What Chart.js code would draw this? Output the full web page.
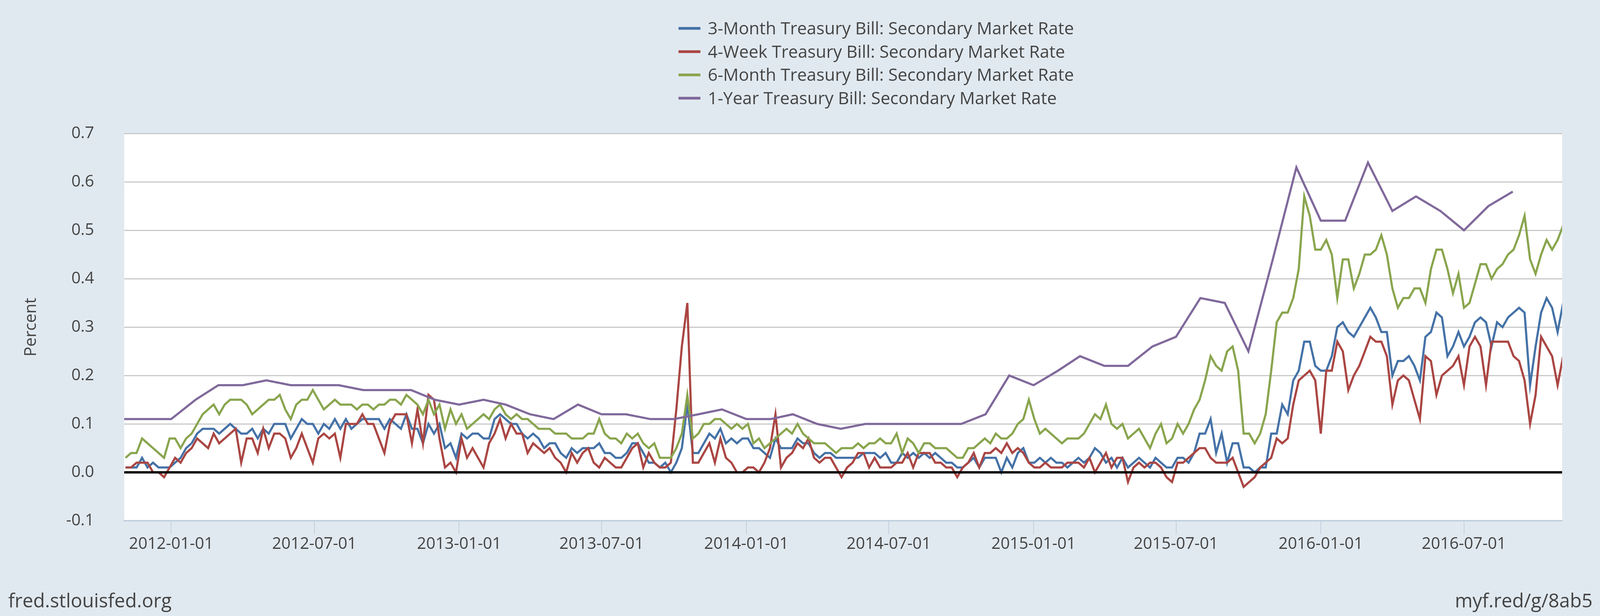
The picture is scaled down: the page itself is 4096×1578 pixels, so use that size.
<!DOCTYPE html>
<html>
<head>
<meta charset="utf-8">
<script src="https://cdn.jsdelivr.net/npm/chart.js@4.4.1/dist/chart.umd.min.js"></script>
<style>
  html, body { margin: 0; padding: 0; background: #e1e9f0; }
  canvas { display: block; }
</style>
</head>
<body>
<canvas id="rates" width="4096" height="1578" style="width:4096px;height:1578px"></canvas>
<script>
// weekly readings of the daily series, first reading on this date
var weekStart = "2011-11-04";

var threeMonth = [
  0.01,0.01,0.01,0.03,0.01,0.02,0.01,0.01,0.01,0.02,0.03,0.05,0.06,0.08,0.09,0.09,0.09,0.08,0.09,0.10,0.09,0.08,0.08,0.09,0.07,0.09,0.08,0.10,0.10,0.10,0.07,0.09,0.11,
  0.10,0.10,0.08,0.10,0.09,0.11,0.09,0.11,0.09,0.10,0.11,0.11,0.11,0.11,0.09,0.11,0.10,0.09,0.12,0.09,0.09,0.06,0.10,0.08,0.10,0.05,0.06,0.03,0.08,0.07,0.08,0.08,0.07,
  0.07,0.11,0.12,0.11,0.10,0.10,0.08,0.07,0.08,0.07,0.05,0.06,0.06,0.04,0.03,0.05,0.04,0.05,0.05,0.05,0.06,0.04,0.04,0.03,0.03,0.04,0.06,0.06,0.04,0.02,0.02,0.01,
  0.02,0.00,0.02,0.05,0.14,0.04,0.04,0.06,0.08,0.07,0.09,0.06,0.07,0.06,0.07,0.07,0.05,0.05,0.04,0.03,0.07,0.05,0.05,0.05,0.07,0.06,0.06,0.04,0.03,0.04,0.04,0.03,0.03,
  0.03,0.03,0.03,0.04,0.04,0.04,0.03,0.04,0.02,0.02,0.04,0.03,0.04,0.03,0.04,0.03,0.04,0.03,0.02,0.02,0.01,0.01,0.02,0.03,0.01,0.03,0.03,0.03,0.00,0.03,0.01,0.04,
  0.05,0.02,0.02,0.03,0.02,0.03,0.02,0.02,0.01,0.02,0.03,0.02,0.03,0.05,0.04,0.02,0.03,0.01,0.03,0.01,0.02,0.03,0.02,0.01,0.03,0.02,0.01,0.01,0.03,0.03,0.02,0.04,0.08,
  0.08,0.11,0.04,0.08,0.02,0.06,0.06,0.01,0.01,0.00,0.01,0.01,0.08,0.08,0.14,0.12,0.19,0.21,0.27,0.27,0.22,0.21,0.21,0.24,0.30,0.31,0.29,0.28,0.30,0.32,0.34,0.32,0.29,
  0.29,0.20,0.23,0.23,0.24,0.22,0.19,0.28,0.29,0.33,0.32,0.24,0.26,0.29,0.26,0.28,0.31,0.32,0.31,0.26,0.31,0.30,0.32,0.33,0.34,0.33,0.18,0.26,0.33,0.36,0.34,0.29,0.35
];

var fourWeek = [
  0.01,0.01,0.02,0.02,0.02,0.00,0.00,-0.01,0.01,0.03,0.02,0.04,0.05,0.07,0.06,0.05,0.08,0.06,0.07,0.08,0.09,0.02,0.07,0.07,0.04,0.09,0.05,0.08,0.08,0.07,0.03,0.05,0.08,
  0.05,0.02,0.07,0.08,0.07,0.08,0.03,0.10,0.10,0.10,0.12,0.10,0.10,0.07,0.04,0.10,0.12,0.12,0.12,0.06,0.13,0.06,0.16,0.15,0.07,0.01,0.02,0.00,0.07,0.03,0.05,0.03,0.01,
  0.06,0.08,0.11,0.07,0.10,0.08,0.08,0.04,0.06,0.05,0.04,0.05,0.03,0.02,0.00,0.04,0.02,0.04,0.05,0.02,0.01,0.03,0.02,0.01,0.01,0.03,0.05,0.06,0.01,0.04,0.02,0.01,
  0.01,0.02,0.13,0.26,0.35,0.02,0.02,0.04,0.06,0.02,0.07,0.03,0.02,0.00,0.00,0.01,0.01,0.00,0.02,0.05,0.12,0.01,0.03,0.04,0.06,0.05,0.07,0.03,0.02,0.03,0.03,0.01,-0.01,
  0.01,0.02,0.04,0.04,0.01,0.03,0.01,0.01,0.01,0.02,0.02,0.04,0.01,0.04,0.04,0.04,0.02,0.02,0.01,0.01,-0.01,0.01,0.02,0.04,0.01,0.04,0.04,0.05,0.04,0.06,0.04,0.05,
  0.04,0.02,0.01,0.01,0.02,0.01,0.01,0.01,0.02,0.02,0.02,0.01,0.03,0.00,0.02,0.04,0.01,0.03,0.03,-0.02,0.01,0.02,0.01,0.02,0.02,0.01,-0.01,-0.02,0.02,0.02,0.03,0.04,0.05,
  0.05,0.03,0.02,0.02,0.02,0.03,0.00,-0.03,-0.02,-0.01,0.01,0.02,0.03,0.07,0.06,0.07,0.14,0.19,0.20,0.21,0.19,0.08,0.21,0.21,0.27,0.25,0.17,0.20,0.22,0.25,0.28,0.27,0.27,
  0.24,0.14,0.19,0.20,0.19,0.15,0.11,0.24,0.23,0.16,0.20,0.21,0.22,0.24,0.18,0.26,0.28,0.26,0.18,0.27,0.27,0.27,0.27,0.24,0.23,0.19,0.10,0.16,0.28,0.26,0.24,0.18,0.24
];

var sixMonth = [
  0.03,0.04,0.04,0.07,0.06,0.05,0.04,0.03,0.07,0.07,0.05,0.07,0.08,0.10,0.12,0.13,0.14,0.12,0.14,0.15,0.15,0.15,0.14,0.12,0.13,0.14,0.15,0.15,0.16,0.13,0.11,0.14,0.15,
  0.15,0.17,0.15,0.13,0.14,0.15,0.14,0.14,0.14,0.13,0.14,0.14,0.13,0.14,0.14,0.15,0.15,0.14,0.16,0.15,0.14,0.12,0.15,0.12,0.14,0.09,0.13,0.10,0.12,0.09,0.10,0.11,0.12,
  0.11,0.13,0.14,0.12,0.11,0.12,0.11,0.11,0.10,0.09,0.09,0.09,0.08,0.08,0.08,0.07,0.07,0.07,0.08,0.08,0.11,0.08,0.07,0.07,0.06,0.08,0.07,0.08,0.06,0.05,0.06,0.03,
  0.03,0.03,0.05,0.08,0.16,0.07,0.08,0.10,0.10,0.11,0.11,0.10,0.09,0.10,0.09,0.10,0.06,0.07,0.05,0.06,0.07,0.08,0.09,0.08,0.10,0.08,0.07,0.06,0.06,0.06,0.05,0.04,0.05,
  0.05,0.05,0.06,0.05,0.06,0.06,0.07,0.06,0.06,0.08,0.04,0.07,0.06,0.04,0.06,0.06,0.05,0.05,0.05,0.04,0.03,0.03,0.05,0.05,0.06,0.07,0.06,0.08,0.07,0.07,0.08,0.10,
  0.11,0.15,0.11,0.08,0.09,0.08,0.07,0.06,0.07,0.07,0.07,0.08,0.10,0.12,0.11,0.14,0.10,0.09,0.10,0.07,0.08,0.09,0.07,0.05,0.08,0.10,0.06,0.07,0.10,0.08,0.10,0.13,0.15,
  0.19,0.24,0.22,0.21,0.25,0.26,0.21,0.08,0.08,0.06,0.08,0.12,0.21,0.31,0.33,0.33,0.36,0.42,0.57,0.53,0.46,0.46,0.48,0.45,0.36,0.44,0.44,0.38,0.41,0.45,0.45,0.46,0.49,
  0.45,0.38,0.34,0.36,0.36,0.38,0.38,0.35,0.42,0.46,0.46,0.42,0.37,0.41,0.34,0.35,0.39,0.43,0.43,0.40,0.42,0.43,0.45,0.46,0.49,0.53,0.44,0.41,0.45,0.48,0.46,0.48,0.51
];

// monthly series, first reading 2011-11-01
var monthStart = "2011-11-01";
var oneYear = [
  0.11,0.11,
  0.11,0.15,0.18,0.18,0.19,0.18,0.18,0.18,0.17,0.17,0.17,0.15,
  0.14,0.15,0.14,0.12,0.11,0.14,0.12,0.12,0.11,0.11,0.12,0.13,
  0.11,0.11,0.12,0.10,0.09,0.10,0.10,0.10,0.10,0.10,0.12,0.20,
  0.18,0.21,0.24,0.22,0.22,0.26,0.28,0.36,0.35,0.25,0.44,0.63,
  0.52,0.52,0.64,0.54,0.57,0.54,0.50,0.55,0.58
];

var seriesNames = [
  "3-Month Treasury Bill: Secondary Market Rate",
  "4-Week Treasury Bill: Secondary Market Rate",
  "6-Month Treasury Bill: Secondary Market Rate",
  "1-Year Treasury Bill: Secondary Market Rate"
];
var seriesColors = ["#4572a7", "#aa4643", "#89a54e", "#80699b"];

var xTickLabels = ["2012-01-01", "2012-07-01", "2013-01-01", "2013-07-01", "2014-01-01",
  "2014-07-01", "2015-01-01", "2015-07-01", "2016-01-01", "2016-07-01"];
var yTicks = [-0.1, 0.0, 0.1, 0.2, 0.3, 0.4, 0.5, 0.6, 0.7];

var DAY = 864e5;
var xMin = Date.parse("2011-11-02T08:00:00Z");
var xMax = Date.parse("2016-11-02T17:00:00Z");

function weekly(values) {
  var t0 = Date.parse(weekStart);
  return values.map(function (v, i) { return { x: t0 + i * 7 * DAY, y: v }; });
}
function monthly(values) {
  var d0 = new Date(monthStart);
  return values.map(function (v, i) {
    return { x: Date.UTC(d0.getUTCFullYear(), d0.getUTCMonth() + i, 1), y: v };
  });
}

var FONT = '"Open Sans", "Liberation Sans", sans-serif';
var TEXT = "#444444";

var plotBackground = {
  id: "plotBackground",
  beforeDraw: function (chart) {
    var ctx = chart.ctx, a = chart.chartArea;
    ctx.save();
    ctx.fillStyle = "#e1e9f0";
    ctx.fillRect(0, 0, chart.width, chart.height);
    ctx.fillStyle = "#ffffff";
    ctx.fillRect(a.left, a.top, a.right - a.left, a.bottom - a.top);
    ctx.restore();
  }
};

// black zero line sits over the series, as in the original
var zeroLine = {
  id: "zeroLine",
  afterDatasetsDraw: function (chart) {
    var ctx = chart.ctx, a = chart.chartArea;
    var y = chart.scales.y.getPixelForValue(0);
    ctx.save();
    ctx.strokeStyle = "#000000";
    ctx.lineWidth = 6;
    ctx.beginPath();
    ctx.moveTo(a.left, y);
    ctx.lineTo(a.right, y);
    ctx.stroke();
    ctx.restore();
  }
};

// one legend entry per line, left aligned
var stackedLegend = {
  id: "stackedLegend",
  afterDraw: function (chart) {
    var ctx = chart.ctx;
    ctx.save();
    ctx.font = "44px " + FONT;
    ctx.textBaseline = "alphabetic";
    chart.data.datasets.forEach(function (ds, i) {
      var y = 72.7 + i * 59.6;
      ctx.fillStyle = ds.borderColor;
      ctx.fillRect(1737, y - 3.5, 56, 7);
      ctx.fillStyle = TEXT;
      ctx.fillText(ds.label, 1812, y + 15.5);
    });
    ctx.restore();
  }
};

var footer = {
  id: "footer",
  afterDraw: function (chart) {
    var ctx = chart.ctx;
    ctx.save();
    ctx.font = "49px " + FONT;
    ctx.fillStyle = TEXT;
    ctx.textBaseline = "alphabetic";
    ctx.textAlign = "left";
    ctx.fillText("fred.stlouisfed.org", 21, 1556);
    ctx.textAlign = "right";
    ctx.fillText("myf.red/g/8ab5", 4077, 1556);
    ctx.restore();
  }
};

function build() {
  var series = [weekly(threeMonth), weekly(fourWeek), weekly(sixMonth), monthly(oneYear)];
  new Chart("rates", {
    type: "line",
    data: {
      datasets: series.map(function (pts, i) {
        return {
          label: seriesNames[i],
          data: pts,
          borderColor: seriesColors[i],
          backgroundColor: seriesColors[i],
          borderWidth: 5.5,
          pointRadius: 0,
          tension: 0,
          fill: false,
          order: 3 - i
        };
      })
    },
    options: {
      responsive: false,
      animation: false,
      events: [],
      devicePixelRatio: 1,
      layout: { padding: { top: 342, right: 97, bottom: 0, left: 0 } },
      plugins: { legend: { display: false }, tooltip: { enabled: false } },
      scales: {
        x: {
          type: "linear",
          min: xMin,
          max: xMax,
          afterBuildTicks: function (scale) {
            scale.ticks = xTickLabels.map(function (d) { return { value: Date.parse(d) }; });
          },
          afterFit: function (scale) { scale.height = 244; },
          grid: { drawOnChartArea: false, drawTicks: true, tickLength: 35, color: "#c0d0e0", lineWidth: 2 },
          border: { display: true, color: "#c0d0e0", width: 3.5 },
          ticks: {
            autoSkip: false,
            maxRotation: 0,
            padding: 4,
            color: TEXT,
            font: { family: FONT, size: 41.5, lineHeight: 1 },
            callback: function (v) { return new Date(v).toISOString().slice(0, 10); }
          }
        },
        y: {
          min: -0.1,
          max: 0.7,
          afterBuildTicks: function (scale) {
            scale.ticks = yTicks.map(function (v) { return { value: v }; });
          },
          afterFit: function (scale) { scale.width = 318; },
          grid: { drawTicks: false, color: "#c0c0c0", lineWidth: 2.5 },
          border: { display: false },
          ticks: {
            padding: 77,
            color: TEXT,
            font: { family: FONT, size: 41.5 },
            callback: function (v) { return Number(v).toFixed(1); }
          },
          title: {
            display: true,
            text: "Percent",
            color: TEXT,
            font: { family: FONT, size: 42 },
            padding: { top: 55, bottom: 0 }
          }
        }
      }
    },
    plugins: [plotBackground, zeroLine, stackedLegend, footer]
  });
}

if (document.fonts && document.fonts.load) {
  Promise.all([document.fonts.load('44px "Open Sans"')]).then(build, build);
} else {
  build();
}
</script>
</body>
</html>
